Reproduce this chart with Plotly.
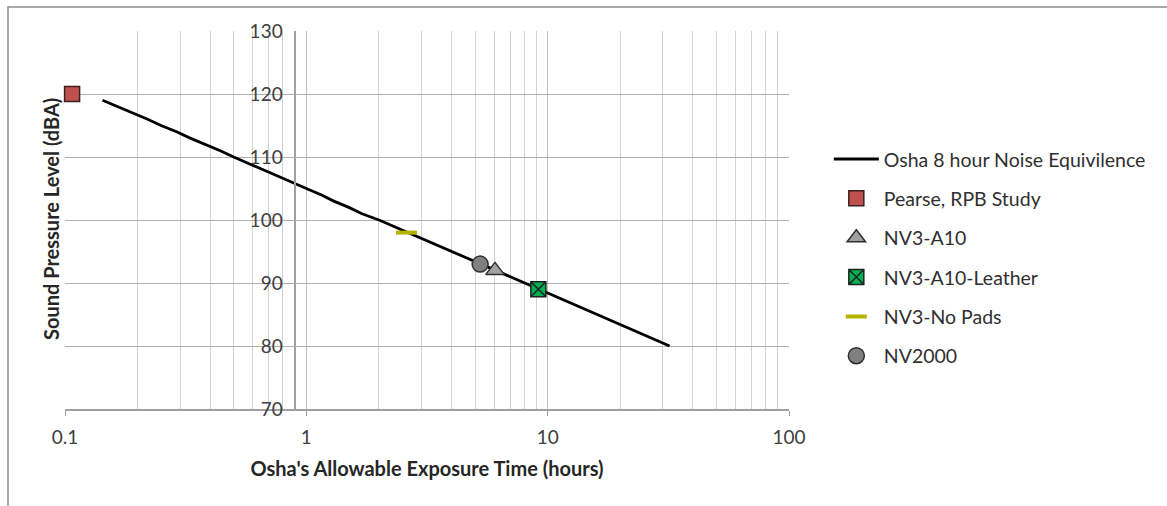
import plotly.graph_objects as go

# OSHA equivalence line: sound level (dBA) vs allowable hours
osha_db = [80, 81, 82, 83, 84, 85, 86, 87, 88, 89, 90, 91, 92, 93, 94, 95, 96, 97, 98, 99,
           100, 101, 102, 103, 104, 105, 106, 107, 108, 109, 110, 111, 112, 113, 114, 115,
           116, 117, 118, 119]
osha_hours = [32, 27.9, 24.3, 21.1, 18.4, 16, 13.9, 12.1, 10.6, 9.2, 8, 7, 6.1, 5.3, 4.6, 4,
              3.5, 3, 2.6, 2.3, 2, 1.7, 1.5, 1.3, 1.15, 1, 0.87, 0.76, 0.66, 0.57, 0.5, 0.44,
              0.38, 0.33, 0.29, 0.25, 0.22, 0.19, 0.165, 0.143]

series_names = ["Pearse, RPB Study", "NV3-A10", "NV3-A10-Leather", "NV3-No Pads", "NV2000"]
series_hours = [0.107, 6.05, 9.15, 2.6, 5.25]
series_db = [120, 92, 89, 98, 93]

x_ticks = [0.1, 1, 10, 100]
x_tick_labels = ["0.1", "1", "10", "100"]
x_minor = [0.2, 0.3, 0.4, 0.5, 0.6, 0.7, 0.8, 0.9, 2, 3, 4, 5, 6, 7, 8, 9,
           20, 30, 40, 50, 60, 70, 80, 90]
y_ticks = [70, 80, 90, 100, 110, 120, 130]

FONT = "Lato, Carlito, Calibri, sans-serif"

styles = {
    "Pearse, RPB Study": dict(symbol="square", size=15, color="#C0504D", line=dict(color="#3a2020", width=1.5)),
    "NV3-A10": dict(symbol="triangle-up", size=16, color="#A0A0A0", line=dict(color="#303030", width=1.5)),
    "NV3-A10-Leather": dict(symbol="square-x", size=15, color="#00B050", line=dict(color="#202020", width=1.5)),
    "NV3-No Pads": dict(symbol="line-ew", size=15, color="#B4B400", line=dict(color="#B4B400", width=4)),
    "NV2000": dict(symbol="circle", size=16, color="#808080", line=dict(color="#303030", width=1.5)),
}

fig = go.Figure()
fig.add_trace(go.Scatter(x=osha_hours, y=osha_db, mode="lines",
                         name="Osha 8 hour Noise Equivilence",
                         line=dict(color="black", width=2.8),
                         legendgroup="g0"))
for i, (n, xv, yv) in enumerate(zip(series_names, series_hours, series_db)):
    fig.add_trace(go.Scatter(x=[xv], y=[yv], mode="markers", name=n,
                             marker=styles[n], legendgroup=f"g{i+1}", cliponaxis=False))

fig.update_layout(
    width=1167, height=506,
    margin=dict(l=65, r=378, t=31, b=97),
    paper_bgcolor="white", plot_bgcolor="white",
    font=dict(family=FONT, color="#404040", size=19),
    showlegend=True,
    legend=dict(x=1.055, xanchor="left", y=0.40, yanchor="middle",
                font=dict(family=FONT, size=19.5, color="#303030"),
                traceorder="grouped", tracegroupgap=11, itemwidth=45,
                bgcolor="rgba(0,0,0,0)"),
    xaxis=dict(type="log", range=[-1, 2],
               tickvals=x_ticks, ticktext=x_tick_labels,
               showgrid=True, gridcolor="#BFBFBF", gridwidth=1,
               minor=dict(tickvals=x_minor, showgrid=True, gridcolor="#D3D3D3", gridwidth=1, ticks=""),
               showline=True, linecolor="#A0A0A0", linewidth=1.5,
               ticks="outside", ticklen=5, tickcolor="#A0A0A0",
               ticklabelstandoff=5,
               tickfont=dict(size=19, color="#404040"),
               title=dict(text="<b>Osha's Allowable Exposure Time (hours)</b>",
                          font=dict(size=20, color="#262626"), standoff=15),
               zeroline=False),
    yaxis=dict(range=[70, 130], tickvals=y_ticks,
               anchor="free", position=0.318,
               showgrid=True, gridcolor="#B0B0B0", gridwidth=1,
               showline=True, linecolor="#A0A0A0", linewidth=1.5,
               ticks="", ticklabelstandoff=8,
               tickfont=dict(size=19, color="#404040"),
               title=dict(text=""),
               zeroline=False),
    annotations=[dict(text="<b>Sound Pressure Level (dBA)</b>", xref="paper", yref="paper",
                      x=(51 - 65) / 724, y=(409 - 219) / 378, textangle=-90,
                      showarrow=False, font=dict(family=FONT, size=20, color="#262626"),
                      xanchor="center", yanchor="middle")],
    shapes=[dict(type="rect", xref="paper", yref="paper",
                 x0=(8 - 65) / 724, x1=(1180 - 65) / 724,
                 y0=(409 - 520) / 378, y1=(409 - 7) / 378,
                 line=dict(color="#8C8C8C", width=1.5), fillcolor="rgba(0,0,0,0)",
                 layer="below")],
)

fig.write_html("out.html")
